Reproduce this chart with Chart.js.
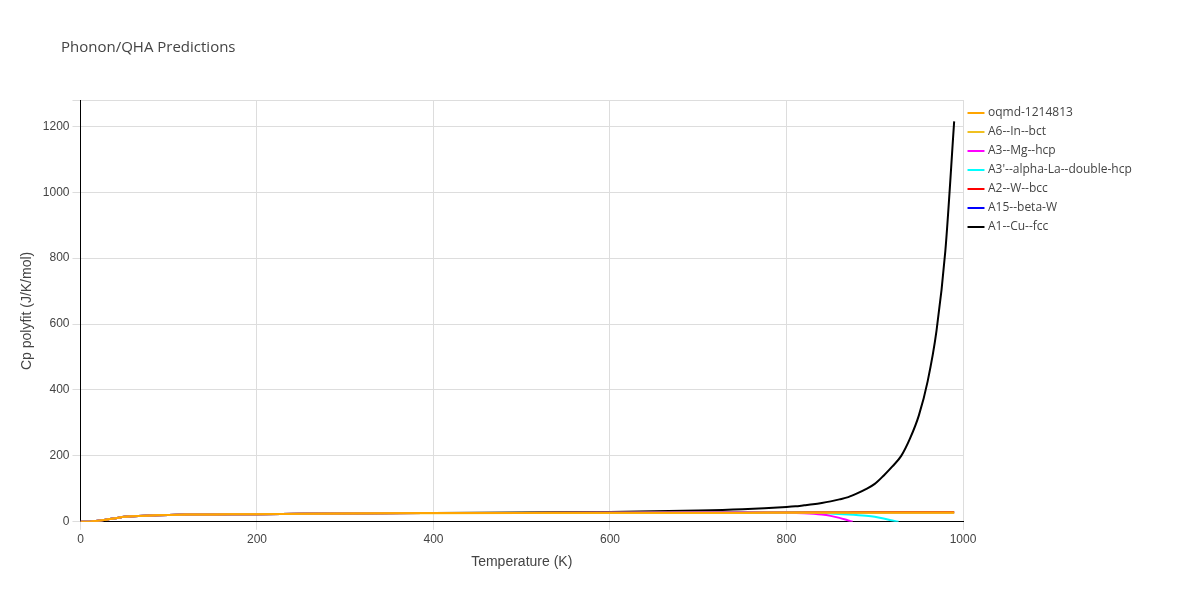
<!DOCTYPE html>
<html><head><meta charset="utf-8">
<script src="https://cdn.jsdelivr.net/npm/chart.js@4/dist/chart.umd.min.js"></script>
<style>body{margin:0;background:#fff;font-family:"Open Sans",sans-serif}#wrap{width:1200px;height:600px;position:relative}
#title{position:absolute;left:61px;top:36px;font-size:15px;color:#444}</style>
</head><body><div id="wrap"><div id="title">Phonon/QHA Predictions</div><canvas id="chart" width="1200" height="600"></canvas></div>
<script>
let temps = [0,10,20,30,40,50,60,80,100,120,150,200,250,300,400,500,600,700,750,800,810,820,830,840,850,860,870,880,890,900,910,920,930,940,950,960,970,980,990];
let cuFcc = [0,0.5,3,7,11,15,17,19,21,22,22.5,23,24.5,25.5,27,28.5,30,34,38,45,47,50,53,57,62,68,75,86,99,115,140,168,200,253,323,427,580,822,1215];
let flat = [0,0.5,3,7,11,15,17,19,21,22,22.5,23,24.5,25.5,26.5,27,27.5,28,28,28.3,28.3,28.4,28.4,28.5,28.5,28.6,28.6,28.7,28.7,28.8,28.8,28.9,28.9,29,29,29,29.1,29.1,29.2];
let mgTemps = [0,10,20,30,40,50,60,80,100,120,150,200,250,300,400,500,600,700,750,800,820,840,850,860,870,875];
let mgHcp = [0,0.5,3,7,11,15,17,19,21,22,22.5,23,24.5,25.5,26.5,27,27.5,28,28,27.5,26,22,18,12,4,0];
let laTemps = [0,10,20,30,40,50,60,80,100,120,150,200,250,300,400,500,600,700,750,800,850,870,890,900,910,920,927];
let laHcp = [0,0.5,3,7,11,15,17,19,21,22,22.5,23,24.5,25.5,26.5,27,27.5,28,28,27.8,25,22,18,15,10,4,0];
let inBct = [0,0.5,3,7,11,15,17,19,21,22,22.5,23,24.5,25.5,26,26.5,27,27,27,27.2,27.2,27.2,27.2,27.2,27.2,27.2,27.2,27.2,27.2,27.2,27.2,27.2,27.2,27.2,27.2,27.2,27.2,27.2,27.2];
let oqmd = [0,0.5,3,7,11,15,17,19,21,22,22.5,23,24.5,25.5,26.5,27,27.5,27.7,27.8,28,28,28,28,28,28,28,28,28,28,28,28,28,28,28,28,28,28,28,28];
let names = ['A1--Cu--fcc','A15--beta-W','A2--W--bcc',"A3'--alpha-La--double-hcp",'A3--Mg--hcp','A6--In--bct','oqmd-1214813'];
let colors = ['#000000','#0000ff','#ff0000','#00ffff','#ff00ff','#f0c020','#ffa500'];
let series = [[temps,cuFcc],[temps,flat],[temps,flat],[laTemps,laHcp],[mgTemps,mgHcp],[temps,inBct],[temps,oqmd]];
let pts = (t, v) => t.map((x, i) => ({x: x, y: v[i]}));
let legendWidth = {
    id: 'legendWidth',
    afterInit(chart) {
        let fit = chart.legend.fit.bind(chart.legend);
        chart.legend.fit = function () { fit(); this.width = 227; };
    }
};
let ctx = document.getElementById('chart').getContext('2d');
new Chart(ctx, {
    type: 'line',
    data: {
        datasets: names.map((n, i) => ({
            label: n,
            data: pts(series[i][0], series[i][1]),
            borderColor: colors[i],
            backgroundColor: colors[i],
            borderWidth: 2,
            pointRadius: 0,
            cubicInterpolationMode: 'monotone',
            order: names.length - i
        }))
    },
    options: {
        responsive: false,
        animation: false,
        layout: {padding: {left: 15, top: 100, right: 10, bottom: 25}},
        plugins: {
            legend: {
                position: 'right',
                align: 'start',
                labels: {usePointStyle: true, pointStyle: 'line', boxWidth: 30, color: '#444', font: {size: 12, family: 'Open Sans'}, padding: 7}
            }
        },
        scales: {
            x: {
                type: 'linear', min: 0, max: 1000,
                ticks: {stepSize: 200, color: '#444', font: {size: 12}, callback: v => String(v)},
                grid: {color: '#ddd'},
                border: {color: '#000'},
                title: {display: true, text: 'Temperature (K)', color: '#444', font: {size: 14}}
            },
            y: {
                min: 0, max: 1280,
                ticks: {stepSize: 200, color: '#444', font: {size: 12}, callback: v => v % 200 === 0 ? String(v) : ''},
                grid: {color: '#ddd'},
                border: {color: '#000'},
                title: {display: true, text: 'Cp polyfit (J/K/mol)', color: '#444', font: {size: 14}}
            }
        }
    },
    plugins: [legendWidth]
});
</script></body></html>
